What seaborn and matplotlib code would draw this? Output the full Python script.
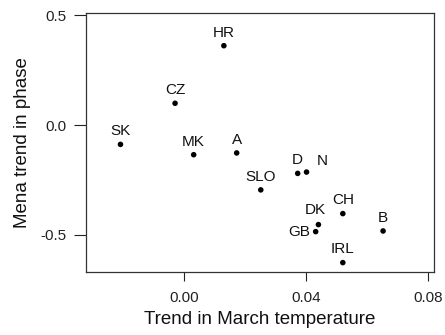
import matplotlib
matplotlib.use("Agg")
import matplotlib.pyplot as plt
import seaborn as sns
import pandas as pd

# country codes and their values
countries = ["HR", "CZ", "SK", "MK", "A", "D", "N", "SLO", "CH", "DK", "GB", "B", "IRL"]
march_trend = [0.0130, -0.0030, -0.0209, 0.0031, 0.0172, 0.0372, 0.0401,
               0.0251, 0.0520, 0.0440, 0.0431, 0.0652, 0.0520]
phase_trend = [0.361, 0.099, -0.088, -0.135, -0.127, -0.220, -0.214,
               -0.295, -0.403, -0.453, -0.485, -0.482, -0.626]

x_ticks = [0.00, 0.04, 0.08]
x_tick_labels = ["0.00", "0.04", "0.08"]
y_ticks = [0.5, 0.0, -0.5]
y_tick_labels = ["0.5", "0.0", "-0.5"]

df = pd.DataFrame({"country": countries, "march": march_trend, "phase": phase_trend})

# label offsets in points (most labels sit straight above the dot)
label_offsets = {"N": (11, 8), "DK": (-2, 10.5), "GB": (-12, 0)}

sns.set_theme(style="ticks")
plt.rcParams["font.family"] = ["Liberation Sans", "DejaVu Sans"]

fig = plt.figure(figsize=(4.45, 3.35), dpi=100)
ax = fig.add_axes([0.1926, 0.1872, 0.7827, 0.7728])

sns.scatterplot(data=df, x="march", y="phase", ax=ax, color="black",
                s=16, edgecolor="none", legend=False)

for _, row in df.iterrows():
    dx, dy = label_offsets.get(row["country"], (0, 9.5))
    ax.annotate(row["country"], (row["march"], row["phase"]),
                xytext=(dx, dy), textcoords="offset points",
                ha="center", va="center", fontsize=11, color="#111111")

ax.set_xlim(-0.0323, 0.0819)
ax.set_ylim(-0.670, 0.508)
ax.set_xticks(x_ticks)
ax.set_xticklabels(x_tick_labels)
ax.set_yticks(y_ticks)
ax.set_yticklabels(y_tick_labels)
ax.tick_params(axis="y", length=8.5, width=0.8, pad=5, labelsize=11, colors="#222222")
ax.tick_params(axis="x", length=6.5, width=0.8, pad=7, labelsize=11, colors="#222222")

for side in ["left", "right", "top", "bottom"]:
    ax.spines[side].set_visible(True)
    ax.spines[side].set_color("#333333")
    ax.spines[side].set_linewidth(0.9)

ax.set_xlabel("Trend in March temperature", fontsize=13.5, color="#111111", labelpad=4)
ax.set_ylabel("Mena trend in phase", fontsize=13.5, color="#111111", labelpad=7)

fig.savefig("out.png", dpi=100)
